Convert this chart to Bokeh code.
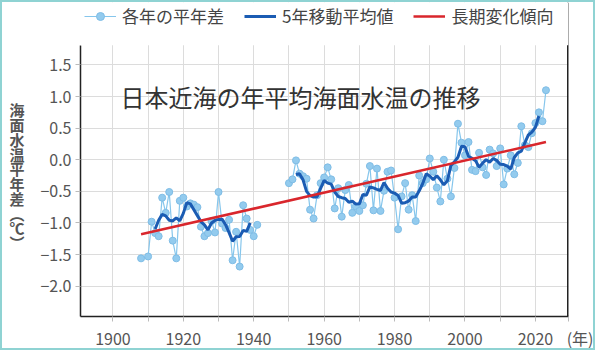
import math
import pandas as pd
from bokeh.plotting import figure
from bokeh.models import (Range1d, FixedTicker, CustomJSTickFormatter, Legend,
                          LegendItem, Label, Span, LinearAxis, BoxAnnotation)
from bokeh.embed import file_html
from bokeh.resources import INLINE

# ---------------- data ----------------
title_text = "日本近海の年平均海面水温の推移"
y_label_chars = ["海", "面", "水", "温", "平", "年", "差", "︵", "℃", "︶"]
x_unit_text = "(年)"
legend_labels = ["各年の平年差", "5年移動平均値", "長期変化傾向"]

years_prewar = [1908] + list(range(1910, 1942))
anom_prewar = [-1.56,
               -1.53, -0.98, -1.16, -1.21, -0.60, -0.84, -0.51, -1.28, -1.56, -0.65,
               -0.60, -0.74, -0.69, -0.71, -0.75, -1.06, -1.21, -1.16, -0.97, -1.15,
               -0.51, -1.01, -1.08, -0.95, -1.59, -1.14, -1.69, -0.72, -0.93, -1.11,
               -1.21, -1.03]

years_postwar = list(range(1950, 2024))
anom_postwar = [-0.37, -0.31, -0.01, -0.22, -0.26, -0.30, -0.79, -0.93, -0.56, -0.37,
                -0.28, -0.12, -0.31, -0.77, -0.45, -0.90, -0.48, -0.40, -0.84, -0.74,
                -0.81, -0.72, -0.38, -0.10, -0.80, -0.14, -0.81, -0.49, -0.19, -0.17,
                -0.60, -1.10, -0.58, -0.37, -0.79, -0.56, -0.97, -0.25, -0.37, -0.31,
                0.02, -0.19, -0.44, -0.66, 0.00, -0.30, -0.58, -0.13, 0.57, 0.27,
                0.07, 0.28, -0.16, -0.18, 0.11, -0.12, -0.24, 0.16, 0.10, -0.10,
                0.18, -0.39, -0.14, 0.07, -0.23, -0.05, 0.53, 0.23, 0.20, 0.42,
                0.58, 0.75, 0.61, 1.10]

trend_years = [1908, 2023]
trend_values = [-1.18, 0.28]

X_START, X_END = 1890.8, 2029.4
Y_BOTTOM, Y_PLOT_TOP, Y_CANVAS_TOP = -2.48, 1.81, 2.488
x_grid_years = list(range(1900, 2030, 10))
x_label_years = [1900, 1920, 1940, 1960, 1980, 2000, 2020]
y_ticks = [-2.0, -1.5, -1.0, -0.5, 0.0, 0.5, 1.0, 1.5]

# ---------------- derived series ----------------
yr_x = years_prewar + [math.nan] + years_postwar
yr_y = anom_prewar + [math.nan] + anom_postwar

s = pd.Series(anom_prewar + anom_postwar, index=years_prewar + years_postwar)
s = s.reindex(range(years_prewar[0], years_postwar[-1] + 1))
ma = s.rolling(5, center=True).mean()
ma_x = list(ma.index)
ma_y = [float(v) for v in ma.values]

# ---------------- figure ----------------
# The frame reaches the top of the canvas so that the legend can sit inside it;
# the part above the plotting area is masked white and the axis is bounded.
FONT = "Noto Sans CJK JP"
p = figure(width=595, height=350, output_backend="svg", toolbar_location=None,
           x_range=Range1d(X_START, X_END), y_range=Range1d(Y_BOTTOM, Y_CANVAS_TOP),
           min_border_left=78, min_border_right=29, min_border_top=0,
           min_border_bottom=35)
p.styles = {"border": "2px solid #8fd3d3"}
p.outline_line_color = None
p.background_fill_color = "white"
p.border_fill_color = "white"

# grids
p.xgrid.ticker = FixedTicker(ticks=x_grid_years)
p.xgrid.grid_line_color = "#dcdcdc"
p.ygrid.ticker = FixedTicker(ticks=y_ticks)
p.ygrid.grid_line_color = "#dcdcdc"

# x axis ("(年)" is carried by a tick at the right end of the axis)
xax = p.xaxis[0]
xax.ticker = FixedTicker(ticks=x_grid_years + [X_END])
xax.formatter = CustomJSTickFormatter(
    args=dict(unit=x_unit_text, xend=X_END, labels=x_label_years),
    code="""
if (Math.abs(tick - xend) < 0.01) { return '\u3000\u2002' + unit; }
const t = Math.round(tick);
return labels.includes(t) ? String(t) : '';
""")
# y axis
yax = p.yaxis[0]
yax.ticker = FixedTicker(ticks=y_ticks)
yax.bounds = (Y_BOTTOM, Y_PLOT_TOP)
yax.formatter = CustomJSTickFormatter(
    code="return tick.toFixed(1).replace('-', '\u2212');")
for ax in (xax, yax):
    ax.axis_line_color = "#222222"
    ax.axis_line_width = 1.5
    ax.major_tick_line_color = "#bbbbbb"
    ax.major_tick_out = 5
    ax.major_tick_in = 0
    ax.minor_tick_line_color = None
    ax.major_label_text_font = FONT
    ax.major_label_text_font_size = "16px"
    ax.major_label_text_color = "#555555"
    ax.major_label_standoff = 4

# upright, vertically stacked y-axis title: one character per label of an
# auxiliary left axis (its ticks only position the characters)
LBL_TOP, LBL_STEP = 0.79, 0.2334
label_axis = LinearAxis(
    ticker=FixedTicker(ticks=[LBL_TOP - i * LBL_STEP for i in range(len(y_label_chars))]),
    formatter=CustomJSTickFormatter(
        args=dict(chars=y_label_chars, top=LBL_TOP, step=LBL_STEP),
        code="const i = Math.round((top - tick) / step); return chars[i] || '';"),
    axis_line_color=None, major_tick_line_color=None, minor_tick_line_color=None,
    major_label_standoff=7, major_label_text_font=FONT,
    major_label_text_font_size="15px", major_label_text_font_style="bold",
    major_label_text_color="#555555")
p.add_layout(label_axis, "left")

# ---------------- glyphs ----------------
yr_line = p.line(yr_x, yr_y, line_color="#86c6ec", line_width=1.2)
yr_pts = p.scatter(years_prewar + years_postwar, anom_prewar + anom_postwar, size=7,
                   fill_color="#93cbee", line_color="#7fbde6", line_width=1)
ma_r = p.line(ma_x, ma_y, line_color="#1b5cb3", line_width=3)
trend_r = p.line(trend_years, trend_values, line_color="#d9262c", line_width=2.5)

# right edge of the plotting area, then the white mask above it
p.add_layout(Span(location=X_END, dimension="height", line_color="#222222",
                  line_width=3))
p.add_layout(BoxAnnotation(bottom=Y_PLOT_TOP, fill_color="white", fill_alpha=1.0,
                           line_alpha=0))

# ---------------- legend (top strip) ----------------
legend = Legend(items=[LegendItem(label=legend_labels[0], renderers=[yr_line, yr_pts]),
                       LegendItem(label=legend_labels[1], renderers=[ma_r]),
                       LegendItem(label=legend_labels[2], renderers=[trend_r])],
                orientation="horizontal", location=(4, 288),
                border_line_color=None, background_fill_alpha=0,
                glyph_width=32, glyph_height=20, label_standoff=6, spacing=20,
                padding=0, margin=0, label_text_font=FONT,
                label_text_font_size="17px", label_text_color="#444444")
p.add_layout(legend, "center")

# ---------------- title inside the plotting area ----------------
p.add_layout(Label(x=40, y=220, x_units="screen", y_units="screen", text=title_text,
                   text_font=FONT, text_font_size="24px", text_color="#333333",
                   text_baseline="middle", text_align="left"))

open("out.html", "w").write(file_html(p, INLINE))
